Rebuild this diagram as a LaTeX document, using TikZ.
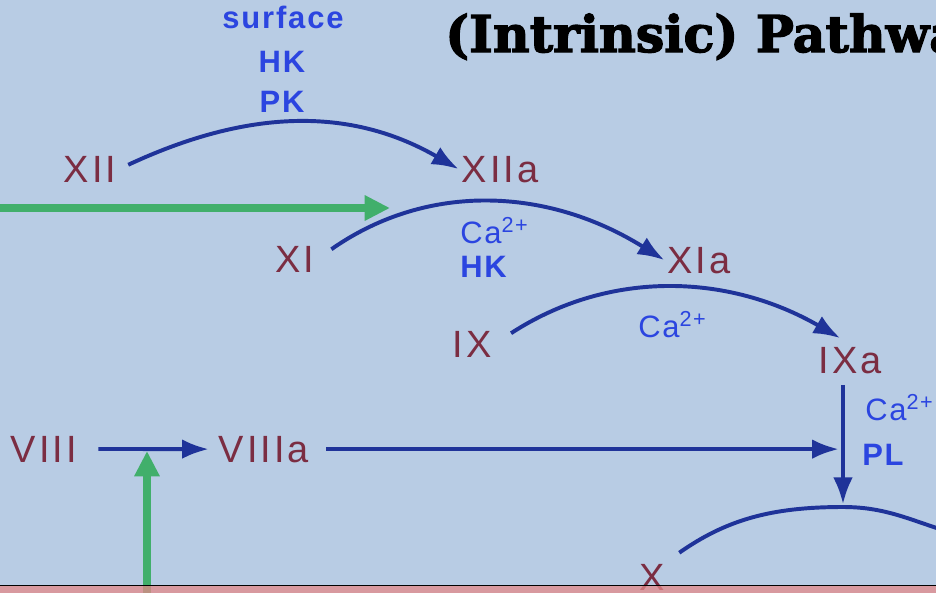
\documentclass[tikz,border=0pt]{standalone}
\usepackage{fontspec}
\usepackage{tikz}
\usetikzlibrary{arrows.meta, positioning, calc}
\setmainfont{Liberation Sans}
\newfontfamily\facfont[LetterSpace=8]{Liberation Sans}
\newfontfamily\lblfont[LetterSpace=6]{Liberation Sans}
\newfontfamily\titlefont[BoldFeatures={FakeBold=2.5}]{DejaVu Serif}
\definecolor{bgblue}{HTML}{B8CCE4}
\definecolor{facred}{HTML}{7B2D42}
\definecolor{arrblue}{HTML}{1F3399}
\definecolor{lblblue}{HTML}{2B45E0}
\definecolor{actgreen}{HTML}{41AF6B}
\definecolor{stripred}{HTML}{E48889}

\begin{document}
\begin{tikzpicture}[x=0.025cm, y=0.025cm,
  fac/.style={text=facred, font=\facfont\fontsize{27}{30}\selectfont, inner sep=2pt, anchor=base},
  lbl/.style={text=lblblue, font=\lblfont\bfseries\fontsize{22}{24}\selectfont, inner sep=0pt, anchor=base},
  ion/.style={text=lblblue, font=\lblfont\fontsize{22}{24}\selectfont, inner sep=0pt, anchor=base west},
  flow/.style={draw=arrblue, line width=2.8pt},
  arr/.style={flow, -{Latex[length=19pt, width=14pt]}},
  act/.style={draw=actgreen, line width=6pt, -{Triangle[length=18pt, width=17pt]}}]
  % Background
  \useasboundingbox (0,0) rectangle (936,-593);
  \clip (0,0) rectangle (936,-593);
  \fill[bgblue] (0,0) rectangle (936,-593);

  % Title
  \node[anchor=base west, inner sep=0pt, font=\titlefont\bfseries\fontsize{36}{40}\selectfont] (title) at (445,-52) {(Intrinsic) Pathwa};

  % Factors
  \node[fac] (xii) at (90,-182) {XII};
  \node[fac] (xiia) at (500,-182) {XIIa};
  \node[fac] (xi) at (295,-272) {XI};
  \node[fac] (xia) at (699,-273) {XIa};
  \node[fac] (ix) at (472,-357) {IX};
  \node[fac] (ixa) at (850,-373) {IXa};
  \node[fac] (viii) at (44,-462) {VIII};
  \node[fac] (viiia) at (264,-462) {VIIIa};
  \node[fac] (x) at (652,-590) {X};

  % Cofactors
  \node[lbl] (surf) at (283,-28) {surface};
  \node[lbl] (hkone) at (282,-72) {HK};
  \node[lbl] (pk) at (282,-112) {PK};
  \node[ion] (caone) at (460,-243) {Ca\textsuperscript{2+}};
  \node[lbl, anchor=base west] (hktwo) at (460,-277) {HK};
  \node[ion] (catwo) at (638,-337) {Ca\textsuperscript{2+}};
  \node[ion] (cathree) at (865,-420) {Ca\textsuperscript{2+}};
  \node[lbl, anchor=base west] (pl) at (862,-465) {PL};

  % Cascade
  \draw[arr, shorten <=7pt] (xii.east) to[out=25, in=150] (xiia.west);
  \draw[arr, shorten <=12pt] (xi.east) to[out=35, in=148] (xia.west);
  \draw[arr, shorten <=14pt, shorten >=8pt] (ix.east) to[out=33, in=150] (ixa.north);

  % Tenase
  \coordinate (xtop) at (843,-507);
  \coordinate (xend) at (960,-535);
  \draw[flow, shorten <=10pt] (x.north east) to[out=35, in=180] (xtop) to[out=0, in=165] (xend);
  \draw[arr, shorten <=6pt, shorten >=2pt] (xtop |- ixa.south) -- (xtop);
  \draw[arr, shorten <=13pt, shorten >=5pt] (viii.east) -- (viiia.west);
  \draw[arr, shorten <=10pt, shorten >=3pt] (viiia.east) -- (viiia.east -| xtop);

  % Activation
  \coordinate (contact) at (-10,-208);
  \coordinate (xiin) at (390,-208);
  \draw[act] (contact) -- (xiin);
  \coordinate (platelet) at (147,-610);
  \coordinate (viiiin) at (147,-451);
  \draw[act] (platelet) -- (viiiin);

  % Bottom strip
  \fill[stripred, opacity=0.75] (0,-586) rectangle (936,-600);
  \draw[black, line width=1.4pt] (0,-585.5) -- (936,-585.5);
\end{tikzpicture}
\end{document}
